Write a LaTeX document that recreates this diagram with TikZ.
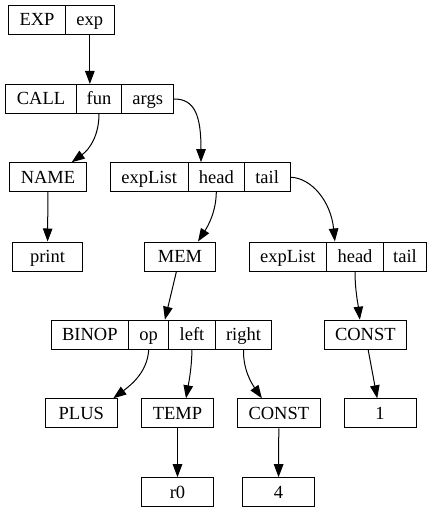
\documentclass[tikz,border=0pt]{standalone}
\usepackage{fontspec}
\setmainfont{Liberation Serif}
\usetikzlibrary{arrows.meta,fit,calc}
\tikzset{
  cell/.style={draw, line width=1pt, inner sep=0pt, minimum height=29pt,
    text height=13pt, text depth=1pt, font=\fontsize{18.5}{20}\selectfont},
  rec/.style={inner sep=0pt, outer sep=0pt},
  arr/.style={line width=1pt, -{Triangle[length=13pt,width=9.5pt]}}
}
\begin{document}
\begin{tikzpicture}[x=1pt,y=-1pt]
\useasboundingbox (0,0) rectangle (434,513);
% row 1
\node[cell, minimum width=57.4pt] (EXP) at (37,19.8) {EXP};
\node[cell, minimum width=48.3pt] (exp) at (89.85,19.8) {exp};
% row 2
\node[cell, minimum width=70.6pt] (CALL) at (41,99) {CALL};
\node[cell, minimum width=45.4pt] (fun) at (99,99) {fun};
\node[cell, minimum width=52pt] (args) at (147.7,99) {args};
\node[rec, fit=(CALL)(fun)(args)] (callrec) {};
% row 3
\node[cell, minimum width=77.4pt] (NAME) at (48,177.2) {NAME};
\node[cell, minimum width=78.3pt] (expListA) at (149.15,177.2) {expList};
\node[cell, minimum width=56pt] (headA) at (216.3,177.2) {head};
\node[cell, minimum width=45.7pt] (tailA) at (267.15,177.2) {tail};
\node[rec, fit=(expListA)(headA)(tailA)] (listA) {};
% row 4
\node[cell, minimum width=70.4pt] (print) at (47.5,256.5) {print};
\node[cell, minimum width=71.4pt] (MEM) at (180,256.5) {MEM};
\node[cell, minimum width=77.7pt] (expListB) at (287.85,256.5) {expList};
\node[cell, minimum width=56.6pt] (headB) at (355,256.5) {head};
\node[cell, minimum width=43.4pt] (tailB) at (405,256.5) {tail};
\node[rec, fit=(expListB)(headB)(tailB)] (listB) {};
% row 5
\node[cell, minimum width=77.7pt] (BINOP) at (89.85,334.7) {BINOP};
\node[cell, minimum width=40pt] (op) at (148.7,334.7) {op};
\node[cell, minimum width=46.6pt] (left) at (192,334.7) {left};
\node[cell, minimum width=56.4pt] (right) at (243.5,334.7) {right};
\node[rec, fit=(BINOP)(op)(left)(right)] (binrec) {};
\node[cell, minimum width=82.7pt] (constA) at (365.35,334.7) {CONST};
% row 6
\node[cell, minimum width=72pt] (PLUS) at (81.3,413.3) {PLUS};
\node[cell, minimum width=71.6pt] (TEMP) at (177.5,413.3) {TEMP};
\node[cell, minimum width=82.3pt] (constB) at (278.85,413.3) {CONST};
\node[cell, minimum width=72pt] (one) at (380,413.3) {1};
% row 7
\node[cell, minimum width=71.6pt] (r0) at (177.5,492.2) {r0};
\node[cell, minimum width=71.6pt] (four) at (278.5,492.2) {4};
% edges
\draw[arr] (exp.south) -- (exp.south |- callrec.north);
\draw[arr] (fun.south) .. controls (99,135) and (90,149) .. ($(NAME.north)+(23.7,0)$);
\draw[arr] (args.east) .. controls (195,99) and (201,116) .. ($(listA.north)+(1,0)$);
\draw[arr] (NAME) -- (print);
\draw[arr] (headA.south) .. controls (216,212) and (208,226) .. ($(MEM.north)+(18,0)$);
\draw[arr] (tailA.east) .. controls (312,178) and (331,202) .. ($(listB.north)+(-3,0)$);
\draw[arr] (MEM) -- (binrec);
\draw[arr] (headB.south) .. controls (355,290) and (358,304) .. ($(constA.north)+(-5.5,0)$);
\draw[arr] (constA) -- (one);
\draw[arr] (op.south) .. controls (147.5,372) and (131,385) .. ($(PLUS.north)+(32,0)$);
\draw[arr] (left.south) .. controls (191.5,370) and (188.5,384) .. ($(TEMP.north)+(8.5,0)$);
\draw[arr] (right.south) .. controls (243,370) and (252,384) .. ($(constB.north)+(-17,0)$);
\draw[arr] (TEMP) -- (r0);
\draw[arr] (constB) -- (four);
\end{tikzpicture}
\end{document}
